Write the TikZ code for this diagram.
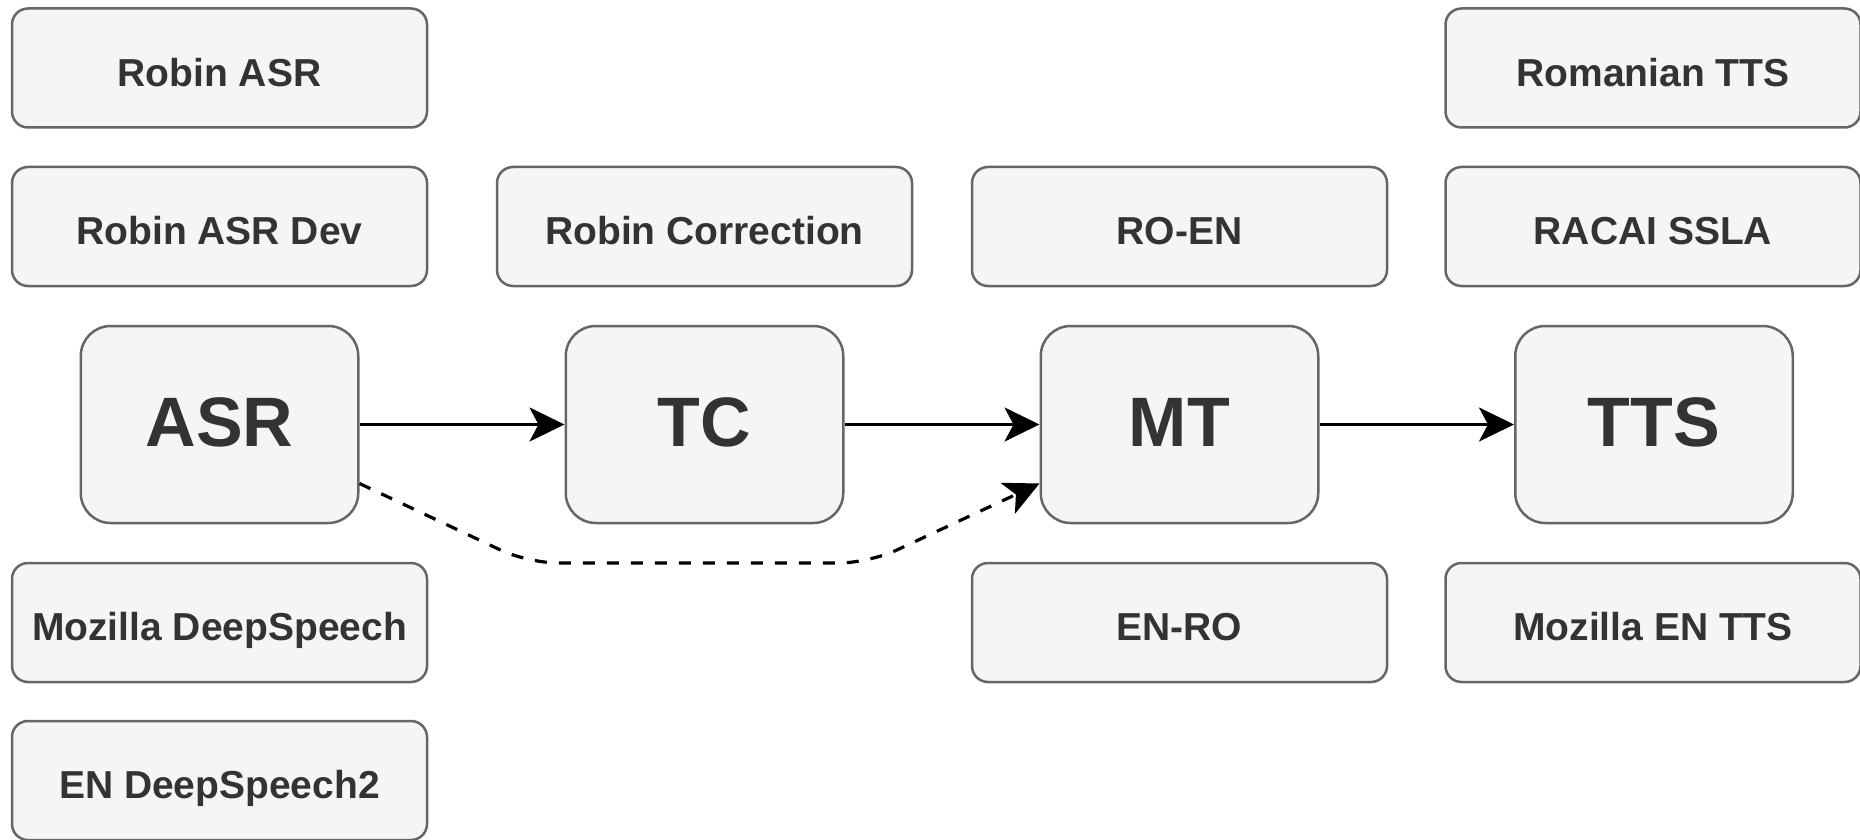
\documentclass[tikz,border=0pt]{standalone}
\usepackage{fontspec}
\setmainfont{Liberation Sans}
\usetikzlibrary{arrows.meta}
\definecolor{boxfill}{HTML}{F5F5F5}
\definecolor{boxline}{HTML}{666666}
\definecolor{boxtext}{HTML}{333333}
\begin{document}
\begin{tikzpicture}[x=0.5pt,y=-0.5pt,
  smallbox/.style={draw=boxline, fill=boxfill, line width=1.25pt, rounded corners=8pt,
    minimum width=207.5pt, minimum height=59.5pt, inner sep=0pt, text=boxtext,
    text height=18.3pt, text depth=0pt,
    font=\fontsize{19.5pt}{22pt}\selectfont\bfseries},
  bigbox/.style={draw=boxline, fill=boxfill, line width=1.25pt, rounded corners=15pt,
    minimum width=138.75pt, minimum height=98.5pt, inner sep=0pt, text=boxtext,
    text height=25.2pt, text depth=3.1pt,
    font=\fontsize{35pt}{40pt}\selectfont\bfseries},
  flow/.style={line width=1.6pt, -{Stealth[length=17.5pt, width=17pt, inset=4.5pt]}},
  alt/.style={flow, dash pattern=on 6pt off 6pt, rounded corners=15pt}]
\useasboundingbox (0,0) rectangle (1860,840);
% column 1
\node[smallbox] (robinasr) at (219.5,68) {Robin ASR};
\node[smallbox] (robinasrdev) at (219.5,226.5) {Robin ASR Dev};
\node[bigbox] (asr) at (219.5,424.5) {ASR};
\node[smallbox] (mozds) at (219.5,622.5) {Mozilla DeepSpeech};
\node[smallbox] (ends2) at (219.5,780.5) {EN DeepSpeech2};
% column 2
\node[smallbox] (robincorr) at (704.5,226.5) {Robin Correction};
\node[bigbox] (tc) at (704.5,424.5) {TC};
% column 3
\node[smallbox] (roen) at (1179.5,226.5) {RO-EN};
\node[bigbox] (mt) at (1179.5,424.5) {MT};
\node[smallbox] (enro) at (1179.5,622.5) {EN-RO};
% column 4
\node[smallbox] (rotts) at (1653,68) {Romanian TTS};
\node[smallbox] (racai) at (1653,226.5) {RACAI SSLA};
\node[bigbox] (tts) at (1654,424.5) {TTS};
\node[smallbox] (moztts) at (1653,622.5) {Mozilla EN TTS};
% connectors
\draw[flow] (asr.east) -- (tc.west);
\draw[flow] (tc.east) -- (mt.west);
\draw[flow] (mt.east) -- (tts.west);
\coordinate (d1) at (528,563);
\coordinate (d2) at (869,563);
\draw[alt] ([yshift=-29.5pt]asr.east) -- (d1) -- (d2) -- ([yshift=-29.5pt]mt.west);
\end{tikzpicture}
\end{document}
